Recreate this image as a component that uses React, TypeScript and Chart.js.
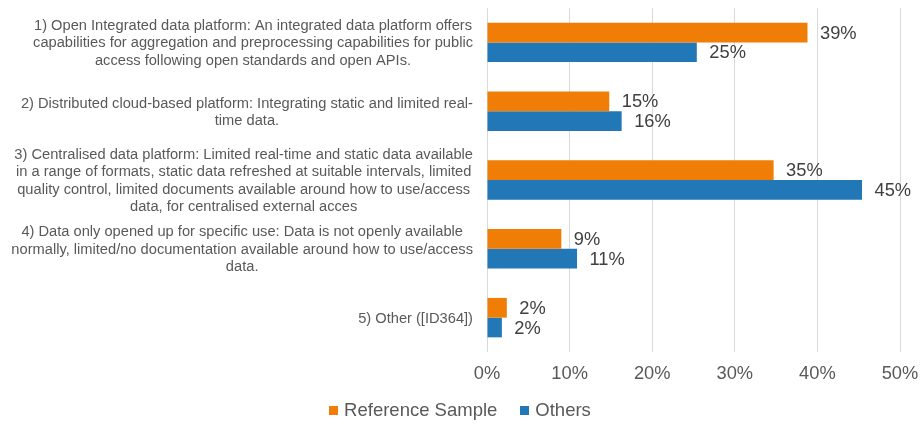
import React, { useEffect, useRef } from 'react';
import { Chart, registerables } from 'chart.js';

Chart.register(...registerables);

const categories: string[][] = [
  [
    '1) Open Integrated data platform: An integrated data platform offers',
    'capabilities for aggregation and preprocessing capabilities for public',
    'access following open standards and open APIs.',
  ],
  ['2) Distributed cloud-based platform: Integrating static and limited real-', 'time data.'],
  [
    '3) Centralised data platform: Limited real-time and static data available',
    'in a range of formats, static data refreshed at suitable intervals, limited',
    'quality control, limited documents available around how to use/access',
    'data, for centralised external acces',
  ],
  [
    '4) Data only opened up for specific use: Data is not openly available',
    'normally, limited/no documentation available around how to use/access',
    'data.',
  ],
  ['5) Other ([ID364])'],
];

const seriesNames = ['Reference Sample', 'Others'];
const referenceSample = [38.8, 14.8, 34.7, 9.0, 2.4];
const others = [25.4, 16.3, 45.4, 10.9, 1.8];
const xTicks = [0, 10, 20, 30, 40, 50];

const ORANGE = '#F07E06';
const BLUE = '#2277B6';
const COLORS = [ORANGE, BLUE];
const FONT = "'Liberation Sans', Arial, sans-serif";

const categoryLabelPlugin = {
  id: 'categoryLabels',
  afterDraw(chart: any) {
    const ctx = chart.ctx;
    const y = chart.scales.y;
    const rightEdge = chart.chartArea.left - 14;
    const lh = 17.4;
    ctx.save();
    ctx.font = `14.67px ${FONT}`;
    ctx.fillStyle = '#595959';
    ctx.textAlign = 'center';
    ctx.textBaseline = 'middle';
    categories.forEach((lines, i) => {
      const cy = y.getPixelForValue(i) + 1;
      const maxW = Math.max(...lines.map((l) => ctx.measureText(l).width));
      const cx = rightEdge - maxW / 2;
      lines.forEach((l, j) => {
        ctx.fillText(l, cx, cy + (j - (lines.length - 1) / 2) * lh);
      });
    });
    ctx.restore();
  },
};

const valueLabelPlugin = {
  id: 'valueLabels',
  afterDatasetsDraw(chart: any) {
    const ctx = chart.ctx;
    ctx.save();
    ctx.font = `18.3px ${FONT}`;
    ctx.fillStyle = '#404040';
    ctx.textAlign = 'left';
    ctx.textBaseline = 'middle';
    chart.data.datasets.forEach((ds: any, di: number) => {
      const meta = chart.getDatasetMeta(di);
      meta.data.forEach((bar: any, i: number) => {
        const v = ds.data[i];
        ctx.fillText(Math.round(v) + '%', bar.x + 12.5, bar.y + 1);
      });
    });
    ctx.restore();
  },
};

export default function App() {
  const ref = useRef<HTMLCanvasElement | null>(null);
  useEffect(() => {
    if (!ref.current) return;
    const chart = new Chart(ref.current, {
      type: 'bar',
      data: {
        labels: categories.map((c) => c.join(' ')),
        datasets: [
          { label: seriesNames[0], data: referenceSample, backgroundColor: ORANGE },
          { label: seriesNames[1], data: others, backgroundColor: BLUE },
        ],
      },
      options: {
        indexAxis: 'y',
        responsive: false,
        animation: false,
        categoryPercentage: 0.573,
        barPercentage: 1,
        layout: { padding: { left: 487, right: 20, top: 8, bottom: 29 } },
        scales: {
          x: {
            min: xTicks[0],
            max: xTicks[xTicks.length - 1],
            afterBuildTicks: (axis: any) => {
              axis.ticks = xTicks.map((v) => ({ value: v }));
            },
            afterFit: (axis: any) => {
              axis.paddingLeft = 0;
              axis.paddingRight = 0;
            },
            ticks: {
              callback: (v: any) => v + '%',
              color: '#595959',
              font: { family: FONT, size: 18.3 },
              padding: 11,
              maxRotation: 0,
            },
            grid: { color: '#D9D9D9', lineWidth: 1, drawTicks: false },
            border: { display: false },
          },
          y: { display: false },
        },
        plugins: {
          legend: { display: false },
          tooltip: { enabled: false },
        },
      },
      plugins: [categoryLabelPlugin, valueLabelPlugin],
    } as any);
    return () => chart.destroy();
  }, []);
  return (
    <div style={{ position: 'absolute', left: 0, top: 0, width: 920, height: 425, background: '#fff' }}>
      <canvas ref={ref} width={920} height={425} style={{ display: 'block' }} />
      <div
        style={{
          position: 'absolute',
          left: 0,
          top: 399,
          width: 920,
          display: 'flex',
          justifyContent: 'center',
          alignItems: 'center',
          fontFamily: FONT,
          fontSize: 18.5,
          lineHeight: '22px',
          color: '#595959',
        }}
      >
        {seriesNames.map((name, i) => (
          <span key={name} style={{ display: 'flex', alignItems: 'center', marginLeft: i === 0 ? 0 : 23 }}>
            <span style={{ display: 'inline-block', width: 9, height: 9, background: COLORS[i], marginRight: 6 }} />
            {name}
          </span>
        ))}
      </div>
    </div>
  );
}
